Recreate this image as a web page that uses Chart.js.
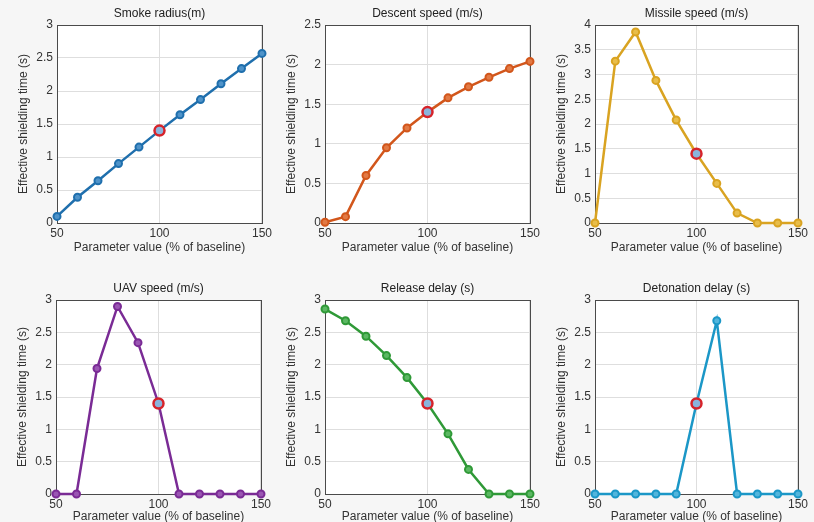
<!doctype html>
<html lang="en">

<head>
    <title>Sensitivity of effective shielding time</title>
    <meta charset="utf-8">
    <script src="https://cdn.jsdelivr.net/npm/chart.js"></script>
    <style>
        html,
        body {
            margin: 0;
            padding: 0;
            width: 814px;
            height: 522px;
            overflow: hidden;
            background: #f6f6f6;
        }

        canvas {
            position: absolute;
        }
    </style>
</head>

<body>
    <canvas id="grafico0"></canvas>
    <canvas id="grafico1"></canvas>
    <canvas id="grafico2"></canvas>
    <canvas id="grafico3"></canvas>
    <canvas id="grafico4"></canvas>
    <canvas id="grafico5"></canvas>
</body>

</html>
<script>

    // parameter value (% of baseline)
    var xValues = [50, 60, 70, 80, 90, 100, 110, 120, 130, 140, 150];

    // effective shielding time (s) for each parameter
    var smokeRadius = [0.1, 0.39, 0.64, 0.9, 1.15, 1.4, 1.64, 1.87, 2.11, 2.34, 2.57];
    var descentSpeed = [0.01, 0.08, 0.6, 0.95, 1.2, 1.4, 1.58, 1.72, 1.84, 1.95, 2.04];
    var missileSpeed = [0, 3.27, 3.86, 2.88, 2.08, 1.4, 0.8, 0.2, 0, 0, 0];
    var uavSpeed = [0, 0, 1.94, 2.9, 2.34, 1.4, 0, 0, 0, 0, 0];
    var releaseDelay = [2.86, 2.68, 2.44, 2.14, 1.8, 1.4, 0.93, 0.38, 0, 0, 0];
    var detonationDelay = [0, 0, 0, 0, 0, 1.4, 2.68, 0, 0, 0, 0];

    var titulos = ['Smoke radius(m)', 'Descent speed (m/s)', 'Missile speed (m/s)',
        'UAV speed (m/s)', 'Release delay (s)', 'Detonation delay (s)'];
    var yMaximo = [3, 2.5, 4, 3, 3, 3];
    var baseline = 100;

    var series = [smokeRadius, descentSpeed, missileSpeed, uavSpeed, releaseDelay, detonationDelay];

    // line colour, marker fill
    var cores = [
        ['#1f6fad', '#4f93c9'],
        ['#d2561b', '#e27a45'],
        ['#d9a321', '#e8bd4a'],
        ['#7a2b95', '#9a56b3'],
        ['#2f9937', '#5cb863'],
        ['#1b97c7', '#52b5dc'],
    ];

    // canvas placement: left, top, width, height
    var posicoes = [
        [0, 0, 275, 261],
        [268, 0, 275, 261],
        [538, 0, 273, 261],
        [-1, 275, 275, 250],
        [268, 275, 275, 250],
        [538, 275, 273, 250],
    ];

    Chart.defaults.font.family = '"Liberation Sans", Arial, sans-serif';
    Chart.defaults.font.size = 12;
    Chart.defaults.color = '#333';

    // white plot area + dark box like matlab axes, title centred on the axes
    const caixa = {
        id: 'caixa',
        beforeDraw(chart) {
            const a = chart.chartArea;
            const ctx = chart.ctx;
            ctx.save();
            ctx.fillStyle = '#ffffff';
            ctx.fillRect(a.left, a.top, a.right - a.left, a.bottom - a.top);
            ctx.fillStyle = '#222';
            ctx.font = '12px "Liberation Sans", Arial, sans-serif';
            ctx.textAlign = 'center';
            ctx.textBaseline = 'middle';
            ctx.fillText(chart.options.tituloPainel, (a.left + a.right) / 2, a.top - 11);
            ctx.restore();
        },
        beforeDatasetsDraw(chart) {
            const a = chart.chartArea;
            const ctx = chart.ctx;
            ctx.save();
            ctx.strokeStyle = '#4a4a4a';
            ctx.lineWidth = 1;
            ctx.strokeRect(Math.round(a.left) + 0.5, Math.round(a.top) + 0.5,
                Math.round(a.right - a.left), Math.round(a.bottom - a.top));
            ctx.restore();
        }
    };

    function plotarGrafico(i) {
        const canvas = document.getElementById('grafico' + i);
        const p = posicoes[i];
        canvas.style.left = p[0] + 'px';
        canvas.style.top = p[1] + 'px';
        canvas.width = p[2];
        canvas.height = p[3];

        const cor = cores[i][0];
        const preenchimento = cores[i][1];
        const pontos = series[i].map((v, k) => ({ x: xValues[k], y: v }));
        const ehBase = xValues.map(x => x === baseline);
        const linhaInferior = i >= 3;

        new Chart(canvas, {
            type: 'line',
            data: {
                datasets: [{
                    data: pontos,
                    borderColor: cor,
                    borderWidth: 2.5,
                    tension: 0,
                    clip: false,
                    pointRadius: ehBase.map(b => b ? 5 : 3.5),
                    pointBorderWidth: ehBase.map(b => b ? 2.5 : 2),
                    pointBorderColor: ehBase.map(b => b ? '#d6232a' : cor),
                    pointBackgroundColor: ehBase.map(b => b ? '#8ab4dc' : preenchimento),
                }]
            },
            options: {
                tituloPainel: titulos[i],
                responsive: false,
                animation: false,
                layout: { padding: { left: 16, right: 6, top: 25, bottom: 0 } },
                plugins: {
                    legend: { display: false },
                    tooltip: { enabled: false },
                    title: { display: false }
                },
                scales: {
                    x: {
                        type: 'linear',
                        min: 50,
                        max: 150,
                        afterFit(scale) { scale.height = linhaInferior ? 31 : 38; },
                        ticks: { stepSize: 50, padding: 3, color: '#333', maxRotation: 0 },
                        grid: { color: '#dedede', drawTicks: false },
                        border: { display: false },
                        title: {
                            display: true,
                            text: 'Parameter value (% of baseline)',
                            color: '#333',
                            padding: { top: 0, bottom: linhaInferior ? 1 : 6 }
                        }
                    },
                    y: {
                        min: 0,
                        max: yMaximo[i],
                        afterFit(scale) { scale.width = 41; },
                        ticks: { stepSize: 0.5, padding: 4, color: '#333', callback: v => String(v) },
                        grid: { color: '#dedede', drawTicks: false },
                        border: { display: false },
                        title: {
                            display: true,
                            text: 'Effective shielding time (s)',
                            color: '#333',
                            padding: { top: 0, bottom: 2 }
                        }
                    }
                }
            },
            plugins: [caixa]
        });
    }

    for (let i = 0; i < series.length; i++) {
        plotarGrafico(i);
    }

</script>
